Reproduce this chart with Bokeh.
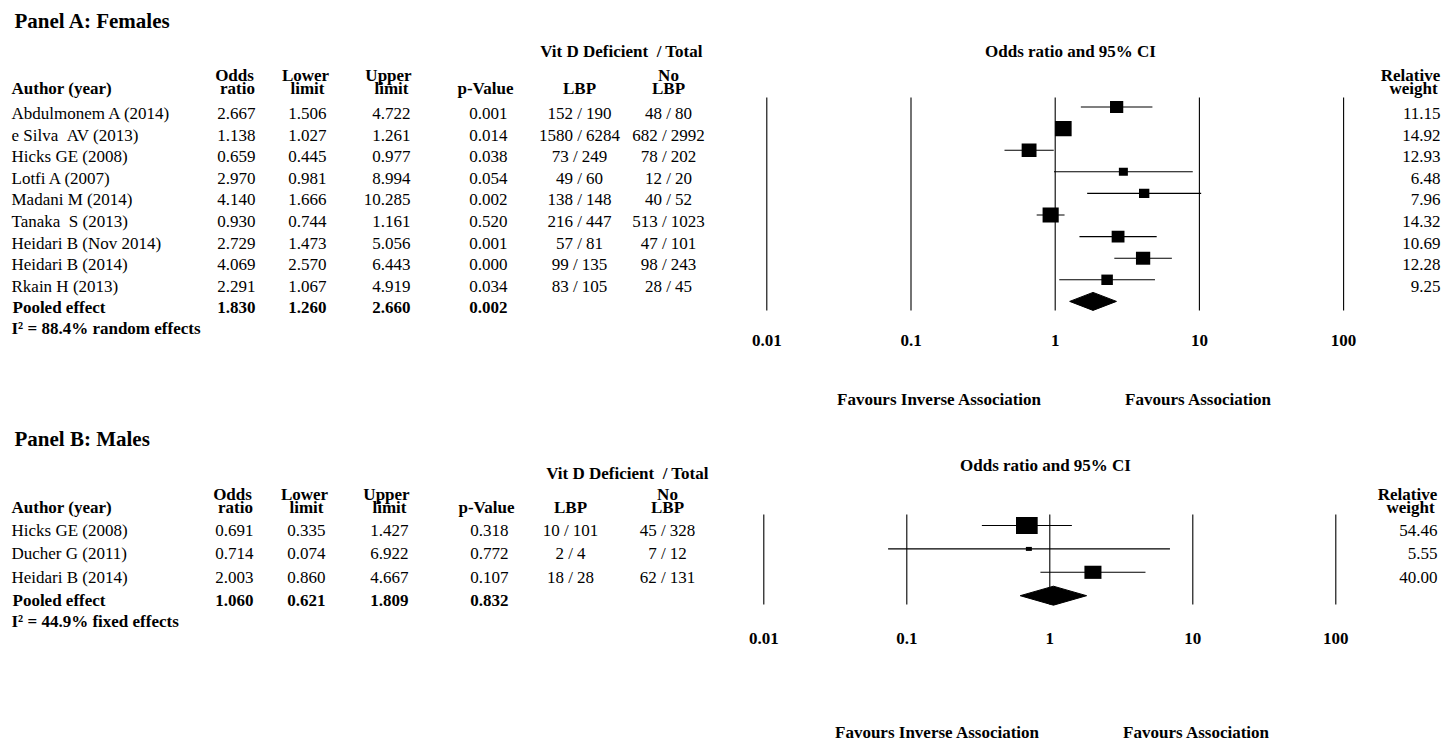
from bokeh.plotting import figure
from bokeh.models import Range1d, LogScale
from bokeh.core.properties import value
from bokeh.embed import file_html
from bokeh.resources import INLINE

# ---------------- data ----------------
ticks = [0.01, 0.1, 1, 10, 100]
tick_labels = ["0.01", "0.1", "1", "10", "100"]

NB = "\u00a0"
authors_a = ["Abdulmonem A (2014)", "e Silva " + NB + "AV (2013)", "Hicks GE (2008)", "Lotfi A (2007)",
             "Madani M (2014)", "Tanaka " + NB + "S (2013)", "Heidari B (Nov 2014)", "Heidari B (2014)",
             "Rkain H (2013)"]
or_a = [2.667, 1.138, 0.659, 2.970, 4.140, 0.930, 2.729, 4.069, 2.291]
lo_a = [1.506, 1.027, 0.445, 0.981, 1.666, 0.744, 1.473, 2.570, 1.067]
hi_a = [4.722, 1.261, 0.977, 8.994, 10.285, 1.161, 5.056, 6.443, 4.919]
p_a = ["0.001", "0.014", "0.038", "0.054", "0.002", "0.520", "0.001", "0.000", "0.034"]
lbp_a = ["152 / 190", "1580 / 6284", "73 / 249", "49 / 60", "138 / 148", "216 / 447", "57 / 81",
         "99 / 135", "83 / 105"]
nolbp_a = ["48 / 80", "682 / 2992", "78 / 202", "12 / 20", "40 / 52", "513 / 1023", "47 / 101",
           "98 / 243", "28 / 45"]
wt_a = [11.15, 14.92, 12.93, 6.48, 7.96, 14.32, 10.69, 12.28, 9.25]
pooled_a = [1.830, 1.260, 2.660]
pooled_p_a = "0.002"
het_a = "I\u00b2 = 88.4% random effects"

authors_b = ["Hicks GE (2008)", "Ducher G (2011)", "Heidari B (2014)"]
or_b = [0.691, 0.714, 2.003]
lo_b = [0.335, 0.074, 0.860]
hi_b = [1.427, 6.922, 4.667]
p_b = ["0.318", "0.772", "0.107"]
lbp_b = ["10 / 101", "2 / 4", "18 / 28"]
nolbp_b = ["45 / 328", "7 / 12", "62 / 131"]
wt_b = [54.46, 5.55, 40.00]
pooled_b = [1.060, 0.621, 1.809]
pooled_p_b = "0.832"
het_b = "I\u00b2 = 44.9% fixed effects"

# ---------------- figure ----------------
W, H = 1446, 744
X0, Y0 = 0, 0
p = figure(width=W, height=H, x_range=Range1d(X0, X0 + W), y_range=Range1d(Y0 + H, Y0),
           output_backend="svg", toolbar_location=None, min_border=0,
           x_axis_location=None, y_axis_location=None)
p.grid.visible = False
p.outline_line_color = None
p.background_fill_color = "white"
p.border_fill_color = "white"


def log_range(x_at_001, decade):
    lo = 10 ** (-2 + (X0 - x_at_001) / decade)
    hi = 10 ** (-2 + (X0 + W - x_at_001) / decade)
    return Range1d(lo, hi)


p.extra_x_ranges = {"orA": log_range(766.3, 144.2), "orB": log_range(763.3, 143.0)}
p.extra_x_scales = {"orA": LogScale(), "orB": LogScale()}

SERIF = value("Liberation Serif")


def txt(xs, ys, ss, align="left", bold=False, size="17px", rng="default"):
    if not isinstance(ss, list):
        xs, ys, ss = [xs], [ys], [ss]
    p.text(x=xs, y=ys, text=ss, text_font=SERIF, text_font_size=size,
           text_font_style="bold" if bold else "normal", text_align=align,
           text_baseline="middle", text_color="black", x_range_name=rng)


FAV = {"inv": 939, "ass": 1198}


def panel(title, title_y, vit_x, vit_y, ci_x, ci_y, hdr_y, row_y0, row_dy, col, authors, ors, los, his,
          ps, lbps, nolbps, wts, pooled, pooled_p, het, rng, vtop, vbot, tick_y, fav_y, sq_off,
          sq_w, sq_h, dia_h, fav_dx):
    n = len(authors)
    ys = [row_y0 + i * row_dy for i in range(n)]
    py = row_y0 + n * row_dy
    hy = py + 21
    h1, h2 = hdr_y - 13, hdr_y
    txt(14, title_y, title, bold=True, size="21px")
    txt(vit_x, vit_y, "Vit D Deficient " + NB + "/ Total", align="center", bold=True)
    txt(ci_x, ci_y, "Odds ratio and 95% CI", align="center", bold=True)
    # headers
    txt(11, h2, "Author (year)", bold=True)
    txt([col["or"] - 21, col["lo"] - 21, col["hi"] - 22], [h1] * 3, ["Odds", "Lower", "Upper"],
        align="center", bold=True)
    txt([col["or"] - 18, col["lo"] - 19, col["hi"] - 19], [h2] * 3, ["ratio", "limit", "limit"],
        align="center", bold=True)
    txt(col["p"] - 22, h2, "p-Value", align="center", bold=True)
    txt(col["lbp"], h2, "LBP", align="center", bold=True)
    txt(col["no"], h1, "No", align="center", bold=True)
    txt(col["no"], h2, "LBP", align="center", bold=True)
    txt(col["w"] - 30, h1, "Relative", align="center", bold=True)
    txt(col["w"] - 27, h2, "weight", align="center", bold=True)
    # rows
    txt([11] * n, ys, authors)
    txt([col["or"]] * n, ys, [f"{v:.3f}" for v in ors], align="right")
    txt([col["lo"]] * n, ys, [f"{v:.3f}" for v in los], align="right")
    txt([col["hi"]] * n, ys, [f"{v:.3f}" for v in his], align="right")
    txt([col["p"]] * n, ys, ps, align="right")
    txt([col["lbp"]] * n, ys, lbps, align="center")
    txt([col["no"]] * n, ys, nolbps, align="center")
    txt([col["w"]] * n, ys, [f"{v:.2f}" for v in wts], align="right")
    # pooled
    txt(12, py, "Pooled effect", bold=True)
    txt([col["or"], col["lo"], col["hi"], col["p"]], [py] * 4,
        [f"{v:.3f}" for v in pooled] + [pooled_p], align="right", bold=True)
    txt(11, hy, het, bold=True)
    # forest
    p.segment(x0=ticks, x1=ticks, y0=[vtop] * len(ticks), y1=[vbot] * len(ticks),
              line_color="black", line_width=1.1, x_range_name=rng)
    sy = [y - sq_off for y in ys]
    p.segment(x0=los, x1=his, y0=sy, y1=sy, line_color="black", line_width=1.1, x_range_name=rng)
    p.rect(x=ors, y=sy, width=[sq_w(w) for w in wts], height=[sq_h(w) for w in wts],
           width_units="screen", height_units="screen", fill_color="black", line_color=None,
           x_range_name=rng)
    dy = py - sq_off
    p.patch(x=[pooled[1], pooled[0], pooled[2], pooled[0]],
            y=[dy, dy - dia_h / 2, dy, dy + dia_h / 2],
            fill_color="black", line_color="black", line_width=1, x_range_name=rng)
    txt(ticks, [tick_y] * len(ticks), tick_labels, align="center", bold=True, rng=rng)
    txt(FAV["inv"] + fav_dx, fav_y, "Favours Inverse Association", align="center", bold=True)
    txt(FAV["ass"] + fav_dx, fav_y, "Favours Association", align="center", bold=True)


col_a = {"or": 255, "lo": 326, "hi": 410, "p": 507, "lbp": 579, "no": 668, "w": 1440}
col_b = {"or": 253, "lo": 325, "hi": 408, "p": 508, "lbp": 570, "no": 667, "w": 1437}

panel("Panel A: Females", 20, 621, 51, 1070, 51, 88, 113, 21.6, col_a, authors_a, or_a, lo_a, hi_a,
      p_a, lbp_a, nolbp_a, wt_a, pooled_a, pooled_p_a, het_a, "orA", 97, 310, 340, 399, 6.5,
      lambda w: 3.1 + 0.91 * w, lambda w: 2.6 + 0.85 * w, 18, 0)

panel("Panel B: Males", 438, 627, 473, 1045, 465, 507, 530, 23.4, col_b, authors_b, or_b, lo_b, hi_b,
      p_b, lbp_b, nolbp_b, wt_b, pooled_b, pooled_p_b, het_b, "orB", 514, 604, 638, 732, 5,
      lambda w: 4.2 + 0.321 * w, lambda w: 2.5 + 0.266 * w, 19, -2)

open("out.html", "w").write(file_html(p, INLINE))
